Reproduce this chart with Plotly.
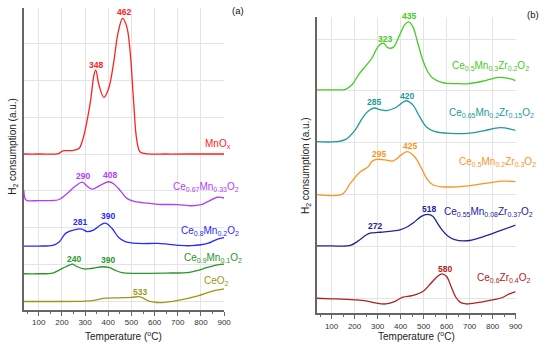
import plotly.graph_objects as go

# ---------------- panel (a) data ----------------
mnox_T = [35, 100, 185, 200, 215, 250, 274, 288, 302, 324, 338, 346, 360, 381, 402, 423, 442, 462, 480, 495, 509, 523, 537, 560, 650, 750, 900]
mnox_v = [4.00, 4.00, 4.01, 4.07, 4.09, 4.10, 4.15, 4.35, 4.70, 5.46, 6.13, 6.27, 5.86, 5.53, 5.78, 6.46, 7.27, 7.67, 7.44, 6.73, 5.46, 4.38, 4.06, 4.01, 4.00, 4.00, 4.00]

ce67_T = [35, 42, 50, 100, 150, 188, 231, 260, 288, 310, 331, 367, 402, 424, 452, 480, 516, 573, 616, 700, 760, 800, 829, 872, 900]
ce67_v = [3.03, 2.78, 2.74, 2.74, 2.74, 2.77, 2.98, 3.14, 3.24, 3.12, 3.05, 3.16, 3.25, 3.19, 3.01, 2.80, 2.71, 2.67, 2.64, 2.63, 2.60, 2.63, 2.71, 2.83, 2.81]

ce80_T = [35, 100, 160, 188, 217, 253, 285, 310, 338, 367, 388, 416, 445, 473, 530, 616, 700, 760, 829, 872, 900]
ce80_v = [1.51, 1.51, 1.53, 1.62, 1.86, 1.95, 1.97, 1.90, 1.95, 2.08, 2.13, 1.99, 1.74, 1.63, 1.58, 1.58, 1.53, 1.52, 1.58, 1.70, 1.74]

ce90_T = [35, 100, 160, 188, 217, 245, 260, 295, 331, 374, 402, 431, 459, 516, 573, 650, 750, 829, 872, 900]
ce90_v = [0.76, 0.76, 0.78, 0.86, 0.95, 1.02, 0.97, 0.89, 0.91, 0.95, 0.93, 0.85, 0.79, 0.77, 0.77, 0.78, 0.80, 0.93, 1.00, 1.02]

ceo2_T = [35, 150, 300, 345, 388, 450, 500, 533, 555, 575, 600, 630, 701, 787, 844, 900]
ceo2_v = [0.01, 0.01, 0.02, 0.05, 0.10, 0.11, 0.12, 0.14, 0.09, 0.02, -0.01, -0.02, 0.04, 0.16, 0.28, 0.35]

# ---------------- panel (b) data ----------------
z1_T = [35, 117, 160, 189, 217, 246, 275, 303, 325, 346, 368, 396, 418, 435, 453, 475, 496, 518, 539, 582, 640, 697, 769, 826, 869, 900]
z1_v = [4.02, 4.02, 4.03, 4.12, 4.31, 4.47, 4.63, 4.86, 4.92, 4.83, 4.84, 5.08, 5.28, 5.33, 5.24, 4.92, 4.60, 4.37, 4.25, 4.16, 4.14, 4.14, 4.20, 4.26, 4.24, 4.20]

z2_T = [35, 117, 160, 203, 239, 268, 286, 310, 339, 375, 404, 425, 453, 482, 511, 547, 618, 690, 761, 833, 900]
z2_v = [3.02, 3.02, 3.06, 3.25, 3.51, 3.64, 3.67, 3.64, 3.62, 3.67, 3.76, 3.81, 3.73, 3.51, 3.31, 3.22, 3.18, 3.18, 3.23, 3.29, 3.24]

z3_T = [35, 146, 182, 225, 260, 275, 296, 332, 368, 404, 429, 461, 489, 515, 540, 582, 697, 840, 900]
z3_v = [2.00, 2.01, 2.22, 2.44, 2.54, 2.64, 2.68, 2.67, 2.65, 2.77, 2.83, 2.73, 2.52, 2.30, 2.19, 2.15, 2.17, 2.26, 2.25]

z4_T = [35, 100, 182, 220, 250, 272, 300, 330, 370, 397, 430, 454, 490, 518, 540, 560, 580, 605, 635, 690, 760, 830, 900]
z4_v = [1.01, 1.01, 1.02, 1.12, 1.22, 1.26, 1.27, 1.28, 1.30, 1.32, 1.38, 1.45, 1.58, 1.62, 1.58, 1.45, 1.32, 1.20, 1.13, 1.11, 1.19, 1.30, 1.41]

z5_T = [35, 100, 200, 250, 290, 335, 370, 410, 450, 497, 530, 560, 580, 600, 620, 640, 660, 685, 740, 800, 840, 870, 900]
z5_v = [0.00, -0.01, -0.03, -0.05, -0.09, -0.11, -0.07, 0.02, 0.05, 0.13, 0.28, 0.42, 0.47, 0.42, 0.22, 0.02, -0.08, -0.11, -0.08, -0.03, 0.01, 0.08, 0.13]

# series names / colors
left_series = [
    (mnox_T, mnox_v, "MnO<sub>x</sub>", "#ff2020"),
    (ce67_T, ce67_v, "Ce<sub>0.67</sub>Mn<sub>0.33</sub>O<sub>2</sub>", "#b03cff"),
    (ce80_T, ce80_v, "Ce<sub>0.8</sub>Mn<sub>0.2</sub>O<sub>2</sub>", "#2a2aff"),
    (ce90_T, ce90_v, "Ce<sub>0.9</sub>Mn<sub>0.1</sub>O<sub>2</sub>", "#2a962a"),
    (ceo2_T, ceo2_v, "CeO<sub>2</sub>", "#999915"),
]
right_series = [
    (z1_T, z1_v, "Ce<sub>0.5</sub>Mn<sub>0.3</sub>Zr<sub>0.2</sub>O<sub>2</sub>", "#44cc22"),
    (z2_T, z2_v, "Ce<sub>0.65</sub>Mn<sub>0.2</sub>Zr<sub>0.15</sub>O<sub>2</sub>", "#21999a"),
    (z3_T, z3_v, "Ce<sub>0.5</sub>Mn<sub>0.2</sub>Zr<sub>0.3</sub>O<sub>2</sub>", "#ff9224"),
    (z4_T, z4_v, "Ce<sub>0.55</sub>Mn<sub>0.08</sub>Zr<sub>0.37</sub>O<sub>2</sub>", "#22229a"),
    (z5_T, z5_v, "Ce<sub>0.6</sub>Zr<sub>0.4</sub>O<sub>2</sub>", "#b22020"),
]

# series label anchor positions (right edge) in data units
left_label_pos = [(922, 4.27), (955, 3.12), (955, 1.93), (969, 1.18), (912, 0.57)]
right_label_pos = [(950, 4.48), (973, 3.57), (979, 2.62), (966, 1.67), (957, 0.39)]

# peak labels: (text, T, v, color index)
left_peaks = [("462", 470, 7.84, 0), ("348", 347, 6.41, 0),
              ("290", 291, 3.41, 1), ("408", 407, 3.43, 1),
              ("281", 276, 2.16, 2), ("390", 401, 2.31, 2),
              ("240", 250, 1.15, 3), ("390", 401, 1.14, 3),
              ("533", 537, 0.26, 4)]
right_peaks = [("435", 435, 5.44, 0), ("323", 332, 5.00, 0),
               ("285", 285, 3.78, 1), ("420", 429, 3.91, 1),
               ("295", 308, 2.78, 2), ("425", 439, 2.94, 2),
               ("272", 290, 1.40, 3), ("518", 522, 1.72, 3),
               ("580", 592, 0.57, 4)]

FONT = "Arial, Liberation Sans, sans-serif"

XR = [35, 900]
XD1 = [24/550, 227/550]
YD1 = [35/345, 337/345]
YR1 = [-0.22, 7.95]
XD2 = [320.7/550, 522.3/550]
YD2 = [31.7/345, 327.7/345]
YR2 = [-0.29, 5.42]


def px(T, dom):
    return dom[0] + (T - XR[0]) / (XR[1] - XR[0]) * (dom[1] - dom[0])


def py(v, dom, rng):
    return dom[0] + (v - rng[0]) / (rng[1] - rng[0]) * (dom[1] - dom[0])


fig = go.Figure()
annotations = []

for (T, v, name, col), (lx, ly) in zip(left_series, left_label_pos):
    fig.add_trace(go.Scatter(x=T, y=v, mode="lines", line=dict(color=col, width=1.3, shape="spline", smoothing=1.0),
                             xaxis="x", yaxis="y", showlegend=False, hoverinfo="skip"))
    annotations.append(dict(x=px(lx, XD1), y=py(ly, YD1, YR1), xref="paper", yref="paper", text=name,
                            showarrow=False, xanchor="right", yanchor="middle", xshift=4,
                            font=dict(size=10, color=col, family=FONT)))

for (T, v, name, col), (lx, ly) in zip(right_series, right_label_pos):
    fig.add_trace(go.Scatter(x=T, y=v, mode="lines", line=dict(color=col, width=1.3, shape="spline", smoothing=1.0),
                             xaxis="x2", yaxis="y2", showlegend=False, hoverinfo="skip"))
    annotations.append(dict(x=px(lx, XD2), y=py(ly, YD2, YR2), xref="paper", yref="paper", text=name,
                            showarrow=False, xanchor="right", yanchor="middle", xshift=4,
                            font=dict(size=10, color=col, family=FONT)))

for txt, T, v, ci in left_peaks:
    annotations.append(dict(x=px(T, XD1), y=py(v, YD1, YR1), xref="paper", yref="paper", text="<b>%s</b>" % txt,
                            showarrow=False, xanchor="center", yanchor="middle",
                            font=dict(size=8.5, color=left_series[ci][3], family=FONT)))
for txt, T, v, ci in right_peaks:
    annotations.append(dict(x=px(T, XD2), y=py(v, YD2, YR2), xref="paper", yref="paper", text="<b>%s</b>" % txt,
                            showarrow=False, xanchor="center", yanchor="middle",
                            font=dict(size=8.5, color=right_series[ci][3], family=FONT)))

# panel letters
annotations.append(dict(x=241/550, y=1-11/345, xref="paper", yref="paper", text="(a)", showarrow=False,
                        xanchor="center", yanchor="middle", font=dict(size=9.5, color="#111", family=FONT)))
annotations.append(dict(x=540/550, y=1-15/345, xref="paper", yref="paper", text="(b)", showarrow=False,
                        xanchor="center", yanchor="middle", font=dict(size=9.5, color="#111", family=FONT)))

# axis titles
ytitle = "H<sub>2</sub> consumption (a.u.)"
xtitle = "Temperature (<sup>o</sup>C)"
annotations.append(dict(x=13/550, y=1-146/345, xref="paper", yref="paper", text=ytitle, textangle=-90,
                        showarrow=False, xanchor="center", yanchor="middle", font=dict(size=10, color="#222", family=FONT)))
annotations.append(dict(x=310/550, y=1-166/345, xref="paper", yref="paper", text=ytitle, textangle=-90,
                        showarrow=False, xanchor="center", yanchor="middle", font=dict(size=10, color="#222", family=FONT)))
annotations.append(dict(x=125.5/550, y=1-335.5/345, xref="paper", yref="paper", text=xtitle,
                        showarrow=False, xanchor="center", yanchor="middle", borderpad=0,
                        font=dict(size=10, color="#222", family=FONT)))
annotations.append(dict(x=421.5/550, y=1-335.5/345, xref="paper", yref="paper", text=xtitle,
                        showarrow=False, xanchor="center", yanchor="middle", borderpad=0,
                        font=dict(size=10, color="#222", family=FONT)))

GRID = "#e4e4e4"
AX = "#666666"


def xax(domain, anchor):
    return dict(domain=domain, anchor=anchor, range=XR, tick0=0, dtick=100,
                showgrid=True, gridcolor=GRID, gridwidth=1, zeroline=False,
                showline=True, linecolor=AX, linewidth=1.5, ticks="outside", ticklen=4,
                tickcolor=AX, tickfont=dict(size=8, color="#333", family=FONT),
                minor=dict(ticks="outside", ticklen=2, dtick=50, tick0=0, tickcolor=AX, showgrid=False))


def yax(domain, anchor, rng):
    return dict(domain=domain, anchor=anchor, range=rng, tick0=0, dtick=1,
                showgrid=True, gridcolor=GRID, gridwidth=1, zeroline=False,
                showline=True, linecolor=AX, linewidth=1.5, ticks="", showticklabels=False)


fig.update_layout(
    width=550, height=345,
    margin=dict(l=0, r=0, t=0, b=0),
    paper_bgcolor="white", plot_bgcolor="white",
    font=dict(family=FONT),
    xaxis=xax(XD1, "y"),
    yaxis=yax(YD1, "x", YR1),
    xaxis2=xax(XD2, "y2"),
    yaxis2=yax(YD2, "x2", YR2),
    annotations=annotations,
)

fig.write_html("out.html", config={"displayModeBar": False},
               post_script="document.body.style.margin='0';document.body.style.overflow='hidden';")
